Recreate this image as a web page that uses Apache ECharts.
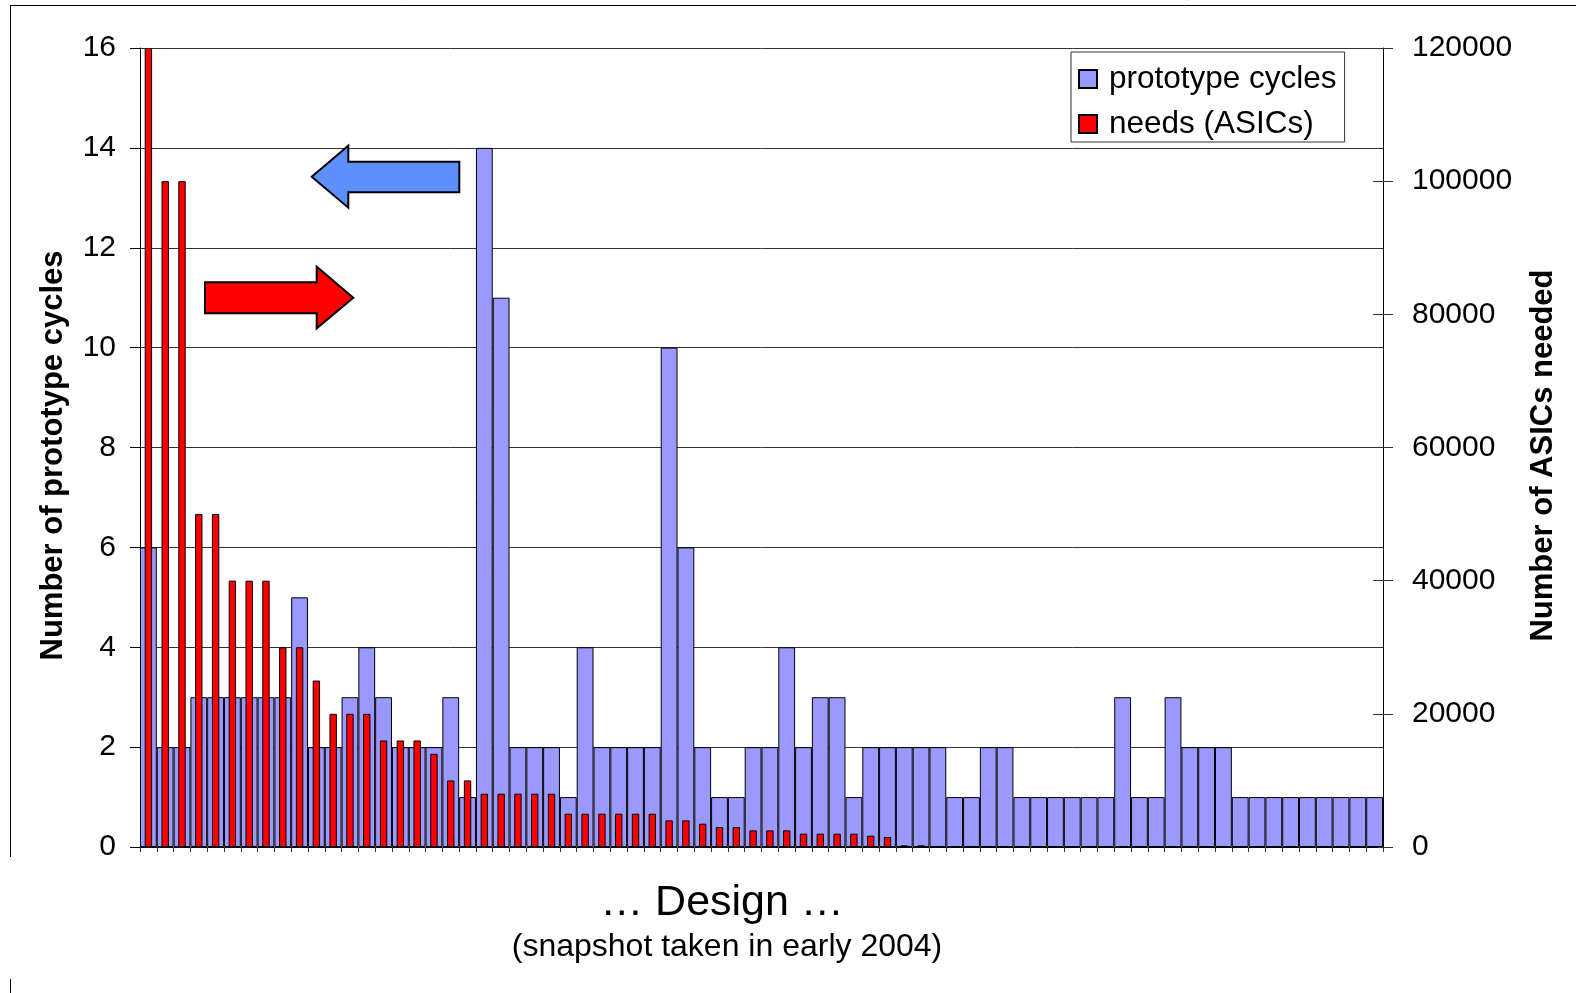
<!DOCTYPE html>
<html>
<head>
<meta charset="utf-8">
<title>Prototype cycles and ASIC needs per design</title>
<script src="https://cdn.jsdelivr.net/npm/echarts@6/dist/echarts.min.js"></script>
<style>
  html, body { margin: 0; padding: 0; background: #ffffff; }
  #chart { width: 1576px; height: 993px; }
</style>
</head>
<body>
<div id="chart"></div>
<script>
// One entry per design (snapshot taken in early 2004)
const designs = Array.from({ length: 74 }, (_, i) => 'Design ' + (i + 1));

// Number of prototype cycles per design (left axis)
const prototypeCycles = [
  6, 2, 2, 3, 3, 3, 3, 3, 3, 5,
  2, 2, 3, 4, 3, 2, 2, 2, 3, 1,
  14, 11, 2, 2, 2, 1, 4, 2, 2, 2,
  2, 10, 6, 2, 1, 1, 2, 2, 4, 2,
  3, 3, 1, 2, 2, 2, 2, 2, 1, 1,
  2, 2, 1, 1, 1, 1, 1, 1, 3, 1,
  1, 3, 2, 2, 2, 1, 1, 1, 1, 1,
  1, 1, 1, 1
];

// Number of ASICs needed per design (right axis)
const asicsNeeded = [
  120000, 100000, 100000, 50000, 50000, 40000, 40000, 40000, 30000, 30000,
  25000, 20000, 20000, 20000, 16000, 16000, 16000, 14000, 10000, 10000,
  8000, 8000, 8000, 8000, 8000, 5000, 5000, 5000, 5000, 5000,
  5000, 4000, 4000, 3500, 3000, 3000, 2500, 2500, 2500, 2000,
  2000, 2000, 2000, 1700, 1500, 250, 250, 0, 0, 0,
  0, 0, 0, 0, 0, 0, 0, 0, 0, 0,
  0, 0, 0, 0, 0, 0, 0, 0, 0, 0,
  0, 0, 0, 0
];

// Axis scales
const cyclesTicks = { min: 0, max: 16, interval: 2 };
const asicTicks = { min: 0, max: 120000, interval: 20000 };

const FONT = '"Liberation Sans", Arial, sans-serif';

const chart = echarts.init(document.getElementById('chart'), null, { renderer: 'canvas' });

const option = {
  backgroundColor: '#ffffff',
  animation: false,
  textStyle: { fontFamily: FONT, color: '#000' },
  grid: {
    left: 140, right: 193, top: 48, bottom: 146,
    containLabel: false,
    outerBoundsMode: 'none'
  },
  legend: {
    orient: 'vertical',
    left: 1071,
    top: 52,
    padding: [10, 8, 1, 7],
    itemGap: 11,
    itemWidth: 32,
    itemHeight: 18,
    icon: 'path://M0 0H10V10H0Z',
    borderColor: '#333',
    borderWidth: 1,
    backgroundColor: '#fff',
    textStyle: { fontFamily: FONT, fontSize: 31.5, color: '#000', lineHeight: 34 },
    data: ['prototype cycles', 'needs (ASICs)']
  },
  xAxis: [
    {
      type: 'category',
      data: designs,
      boundaryGap: true,
      axisLine: { show: true, lineStyle: { color: '#000', width: 1 } },
      axisTick: { show: true, interval: 0, length: 5, lineStyle: { color: '#333' } },
      axisLabel: { show: false },
      splitLine: { show: false }
    },
    {
      type: 'category',
      data: designs,
      boundaryGap: true,
      show: false
    }
  ],
  yAxis: [
    {
      type: 'value',
      position: 'left',
      min: cyclesTicks.min, max: cyclesTicks.max, interval: cyclesTicks.interval,
      name: 'Number of prototype cycles',
      nameLocation: 'middle',
      nameGap: 71,
      nameMoveOverlap: false,
      nameTextStyle: { fontFamily: FONT, fontSize: 31, fontWeight: 'bold', color: '#000', padding: [0, 16, 0, 0] },
      axisLine: { show: true, lineStyle: { color: '#000', width: 1 } },
      axisTick: { show: true, length: 10, lineStyle: { color: '#000' } },
      axisLabel: { fontFamily: FONT, fontSize: 30, color: '#000', margin: 24 },
      splitLine: { show: true, lineStyle: { color: '#333', width: 1 } }
    },
    {
      type: 'value',
      position: 'right',
      min: asicTicks.min, max: asicTicks.max, interval: asicTicks.interval,
      name: 'Number of ASICs needed',
      nameLocation: 'middle',
      nameGap: 145,
      nameMoveOverlap: false,
      nameTextStyle: { fontFamily: FONT, fontSize: 31, fontWeight: 'bold', color: '#000', padding: [0, 16, 0, 0] },
      axisLine: { show: true, lineStyle: { color: '#000', width: 1 } },
      axisTick: { show: true, length: 10, lineStyle: { color: '#333' } },
      axisLabel: {
        fontFamily: FONT, fontSize: 30, color: '#000', margin: 29,
        formatter: (v) => String(v)
      },
      splitLine: { show: false }
    },
    {
      // inner half of the crossing ticks on the right-hand scale
      type: 'value',
      position: 'right',
      min: asicTicks.min, max: asicTicks.max, interval: asicTicks.interval,
      axisLine: { show: false },
      axisTick: { show: true, inside: true, length: 10, lineStyle: { color: '#333' } },
      axisLabel: { show: false },
      splitLine: { show: false }
    }
  ],
  series: [
    {
      name: 'prototype cycles',
      type: 'bar',
      xAxisIndex: 0,
      yAxisIndex: 0,
      barWidth: '100%',
      data: prototypeCycles,
      itemStyle: { color: '#9999ff', borderColor: '#000', borderWidth: 1 }
    },
    {
      name: 'needs (ASICs)',
      type: 'bar',
      xAxisIndex: 1,
      yAxisIndex: 1,
      barWidth: '44%',
      data: asicsNeeded,
      itemStyle: { color: '#ff0000', borderColor: '#000', borderWidth: 1 }
    }
  ],
  graphic: [
    // page frame
    { type: 'line', shape: { x1: 10, y1: 5.5, x2: 1576, y2: 5.5 }, style: { stroke: '#000', lineWidth: 1 } },
    { type: 'line', shape: { x1: 10.5, y1: 5, x2: 10.5, y2: 857 }, style: { stroke: '#000', lineWidth: 1 } },
    { type: 'line', shape: { x1: 10.5, y1: 979, x2: 10.5, y2: 993 }, style: { stroke: '#000', lineWidth: 1 } },
    // arrow pointing to the left-hand scale
    {
      type: 'polygon',
      shape: { points: [[311.7, 176.7], [348.3, 145.7], [348.3, 161.7], [459.3, 161.7], [459.3, 192.3], [348.3, 192.3], [348.3, 207.7]] },
      style: { fill: '#5f8fff', stroke: '#000', lineWidth: 2 },
      z: 10
    },
    // arrow pointing to the right-hand scale
    {
      type: 'polygon',
      shape: { points: [[205, 282.3], [316.7, 282.3], [316.7, 266.7], [353.3, 297.7], [316.7, 328.3], [316.7, 313.3], [205, 313.3]] },
      style: { fill: '#ff0000', stroke: '#000', lineWidth: 2 },
      z: 10
    },
    // category axis caption
    {
      type: 'text',
      style: {
        text: '… Design …', x: 722, y: 903,
        align: 'center', verticalAlign: 'middle', textAlign: 'center', textVerticalAlign: 'middle',
        font: 'normal 43px ' + FONT, fill: '#000'
      }
    },
    {
      type: 'text',
      style: {
        text: '(snapshot taken in early 2004)', x: 727, y: 947,
        align: 'center', verticalAlign: 'middle', textAlign: 'center', textVerticalAlign: 'middle',
        font: 'normal 32px ' + FONT, fill: '#000'
      }
    }
  ]
};

chart.setOption(option);
</script>
</body>
</html>
